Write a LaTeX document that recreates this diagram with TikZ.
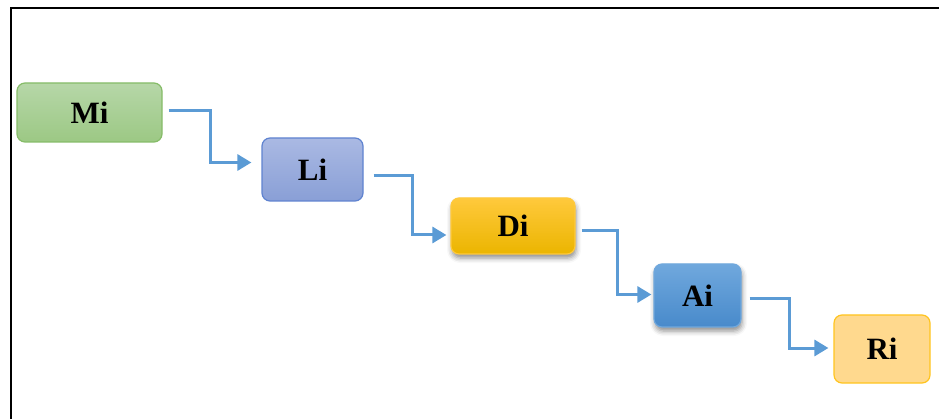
\documentclass[tikz,border=0pt]{standalone}
\usepackage{fontspec}
\setmainfont{Liberation Serif}
\usepackage{xcolor}
\usetikzlibrary{positioning,arrows.meta,shadows.blur}

\definecolor{flowblue}{HTML}{5B9BD5}
\definecolor{mtop}{HTML}{B6D7A8}
\definecolor{mbot}{HTML}{9CC884}
\definecolor{mline}{HTML}{86BC68}
\definecolor{ltop}{HTML}{AAB9E3}
\definecolor{lbot}{HTML}{899FD6}
\definecolor{lline}{HTML}{5F83D0}
\definecolor{dtop}{HTML}{FFC93C}
\definecolor{dbot}{HTML}{EBB500}
\definecolor{atop}{HTML}{70A8DD}
\definecolor{abot}{HTML}{488ACB}
\definecolor{rfill}{HTML}{FFD98E}
\definecolor{rline}{HTML}{FFC41F}

\begin{document}
\begin{tikzpicture}[
  x=1pt, y=-1pt,
  box/.style={draw, rounded corners=8pt, line width=1.2pt, align=center,
    font=\fontsize{31}{31}\selectfont\bfseries, inner sep=0pt},
  shade/.style={blur shadow={shadow xshift=1pt, shadow yshift=-4pt,
    shadow blur radius=5pt, shadow opacity=45}},
  mstep/.style={box, draw=mline, top color=mtop, bottom color=mbot},
  lstep/.style={box, draw=lline, top color=ltop, bottom color=lbot},
  dstep/.style={box, shade, draw=dtop, top color=dtop, bottom color=dbot},
  astep/.style={box, shade, draw=atop, top color=atop, bottom color=abot},
  rstep/.style={box, draw=rline, fill=rfill},
  flow/.style={draw=flowblue, line width=3pt, shorten >=5pt, -{Triangle[length=14pt,width=16pt]}},
  frame/.style={draw=black, line width=2pt}
]
\useasboundingbox (0,0) rectangle (939,419);

% outer frame (only top and left edges fall inside the page)
\draw[frame] (11,419) -- (11,8) -- (939,8);

% the five stages
\node[mstep, minimum width=145pt, minimum height=59pt] (Mi) at (89.5,112.5) {Mi};
\node[lstep, minimum width=101pt, minimum height=63pt] (Li) at (312.5,169.5) {Li};
\node[dstep, minimum width=124pt, minimum height=56pt] (Di) at (513,226) {Di};
\node[astep, minimum width=87pt, minimum height=63pt] (Ai) at (697.5,295.5) {Ai};
\node[rstep, minimum width=96pt, minimum height=68pt] (Ri) at (882,349) {Ri};

% elbow connectors
\draw[flow, shorten >=10pt] ([xshift=6pt,yshift=2pt]Mi.east) -- ++(42,0) |- ([yshift=7pt]Li.west);
\draw[flow, shorten >=4pt] ([xshift=10pt,yshift=-6pt]Li.east) -- ++(39,0) |- ([yshift=-9pt]Di.west);
\draw[flow, shorten >=2pt] ([xshift=6pt,yshift=-5pt]Di.east) -- ++(36,0) |- ([yshift=1pt]Ai.west);
\draw[flow] ([xshift=8pt,yshift=-3pt]Ai.east) -- ++(40,0) |- ([yshift=1pt]Ri.west);
\end{tikzpicture}
\end{document}
